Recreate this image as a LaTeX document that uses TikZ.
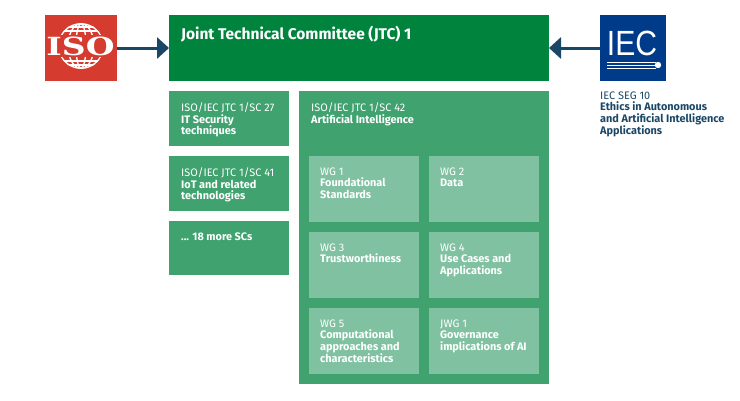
\documentclass[tikz,border=0pt]{standalone}
\usepackage{fontspec}
\setmainfont{Fira Sans}
\newfontfamily\isofont{DejaVu Serif}
\newfontfamily\iecfont{Liberation Sans}
\usetikzlibrary{arrows.meta}
\definecolor{jtcgreen}{HTML}{00843D}
\definecolor{scgreen}{HTML}{40A26F}
\definecolor{wggreen}{HTML}{80C1A1}
\definecolor{isored}{HTML}{D63B2F}
\definecolor{iecblue}{HTML}{003B8A}
\definecolor{navy}{HTML}{1B4766}
\begin{document}
\begin{tikzpicture}[x=1pt,y=-1pt,
  box/.style={draw=none, inner sep=0pt, outer sep=0pt, anchor=north west},
  scbox/.style={box, fill=scgreen, minimum width=120pt, minimum height=55pt},
  wgbox/.style={box, fill=wggreen, minimum width=110pt, minimum height=66pt},
  txt/.style={anchor=north west, inner sep=0pt, text=white, align=left,
              font=\fontsize{10.9}{11.6}\selectfont},
  arr/.style={draw=navy, line width=3pt, -{Triangle[length=12pt,width=21pt]}},
  globe/.style={draw=white, line width=1.3pt}
]
\useasboundingbox (0,0) rectangle (740,400);

% logos and committee
\node[box, fill=isored, minimum width=72pt, minimum height=66pt] (iso) at (45,15) {};
\node[box, fill=jtcgreen, minimum width=380pt, minimum height=66pt] (jtc) at (169,15) {};
\node[box, fill=iecblue, minimum width=66pt, minimum height=66pt] (iec) at (600,15) {};

% ISO globe
\begin{scope}
  \clip (81,46) circle (23);
  \draw[globe] (81,46) circle (22.3);
  \draw[globe] (81,46) ellipse (13 and 22.3);
  \draw[globe] (81,46) ellipse (5 and 22.3);
  \draw[globe] (55,31) -- (107,31);
  \draw[globe] (55,27) -- (107,27);
  \draw[globe] (55,61) -- (107,61);
  \draw[globe] (55,65) -- (107,65);
\end{scope}
\fill[isored] (47,35) rectangle (115,57);
\node[inner sep=0pt, text=white, xscale=1.32, font=\isofont\bfseries\fontsize{25}{25}\selectfont] (isotxt) at (80.5,46.5) {ISO};

% IEC logo
\node[inner sep=0pt, text=white, xscale=0.86, font=\iecfont\fontsize{35}{35}\selectfont] (iectxt) at (632,43.5) {IEC};
\draw[white, line width=0.9pt] (607,62) -- (656,62);
\draw[white, line width=0.9pt] (607,65) -- (656,65);
\draw[white, line width=0.9pt] (607,68) -- (656,68);
\fill[white] (658,65) circle (3.2);

% arrows
\draw[arr] (iso) -- (jtc);
\draw[arr] (iec) -- (jtc);

\node[txt, font=\bfseries\fontsize{15.5}{17}\selectfont] (jtctxt) at ([xshift=12pt,yshift=-11pt]jtc.north west) {Joint Technical Committee (JTC) 1};

\node[anchor=north west, inner sep=0pt, text=navy, align=left, font=\fontsize{10.9}{11.6}\selectfont] (segtxt) at (600,91.5)
  {IEC SEG 10\\\textbf{Ethics in Autonomous}\\\textbf{and Artificial Intelligence}\\\textbf{Applications}};

% subcommittees
\node[scbox] (sc27) at (169,91) {};
\node[scbox] (sc41) at (169,156) {};
\node[scbox, minimum height=54pt] (scmore) at (169,221) {};
\node[box, fill=scgreen, minimum width=250pt, minimum height=293pt] (sc42) at (299,91) {};

\node[txt] (sc27txt) at ([xshift=12pt,yshift=-11.5pt]sc27.north west) {ISO/IEC JTC 1/SC 27\\\textbf{IT Security}\\\textbf{techniques}};
\node[txt] (sc41txt) at ([xshift=12pt,yshift=-11.5pt]sc41.north west) {ISO/IEC JTC 1/SC 41\\\textbf{IoT and related}\\\textbf{technologies}};
\node[txt] (scmoretxt) at ([xshift=12pt,yshift=-11.5pt]scmore.north west) {\textbf{... 18 more SCs}};
\node[txt] (sc42txt) at ([xshift=12pt,yshift=-11.5pt]sc42.north west) {ISO/IEC JTC 1/SC 42\\\textbf{Artificial Intelligence}};

% working groups
\node[wgbox] (wg1) at (309,156) {};
\node[wgbox] (wg2) at (429,156) {};
\node[wgbox] (wg3) at (309,232) {};
\node[wgbox] (wg4) at (429,232) {};
\node[wgbox] (wg5) at (309,308) {};
\node[wgbox] (jwg1) at (429,308) {};

\node[txt] (wg1txt) at ([xshift=11pt,yshift=-11.5pt]wg1.north west) {WG 1\\\textbf{Foundational}\\\textbf{Standards}};
\node[txt] (wg2txt) at ([xshift=11pt,yshift=-11.5pt]wg2.north west) {WG 2\\\textbf{Data}};
\node[txt] (wg3txt) at ([xshift=11pt,yshift=-11.5pt]wg3.north west) {WG 3\\\textbf{Trustworthiness}};
\node[txt] (wg4txt) at ([xshift=11pt,yshift=-11.5pt]wg4.north west) {WG 4\\\textbf{Use Cases and}\\\textbf{Applications}};
\node[txt] (wg5txt) at ([xshift=11pt,yshift=-11.5pt]wg5.north west) {WG 5\\\textbf{Computational}\\\textbf{approaches and}\\\textbf{characteristics}};
\node[txt] (jwg1txt) at ([xshift=11pt,yshift=-11.5pt]jwg1.north west) {JWG 1\\\textbf{Governance}\\\textbf{implications of AI}};
\end{tikzpicture}
\end{document}
